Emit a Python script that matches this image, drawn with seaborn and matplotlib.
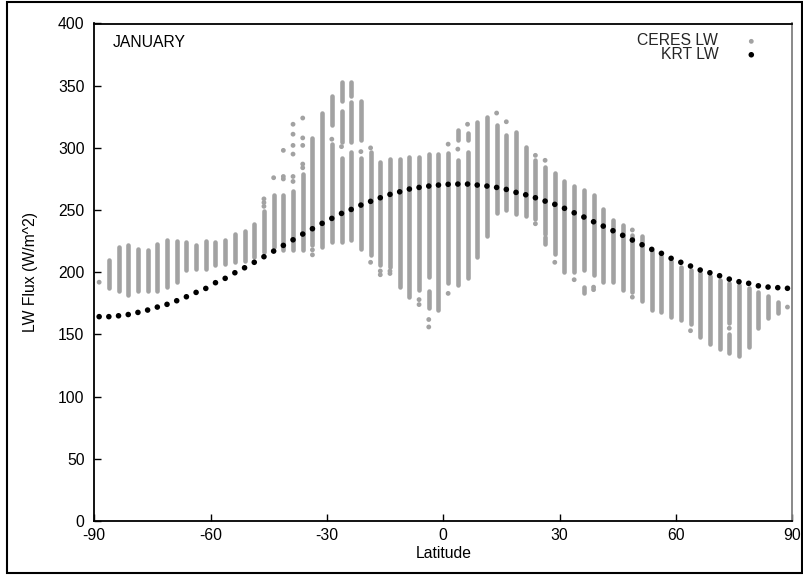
import matplotlib
matplotlib.use("Agg")
import matplotlib.pyplot as plt
import seaborn as sns
import pandas as pd
from matplotlib.patches import Rectangle

# ---------------- data ----------------
# KRT LW model, one value per 2.5-degree latitude band
krt_lat = [-88.75, -86.25, -83.75, -81.25, -78.75, -76.25, -73.75, -71.25, -68.75, -66.25,
           -63.75, -61.25, -58.75, -56.25, -53.75, -51.25, -48.75, -46.25, -43.75, -41.25,
           -38.75, -36.25, -33.75, -31.25, -28.75, -26.25, -23.75, -21.25, -18.75, -16.25,
           -13.75, -11.25, -8.75, -6.25, -3.75, -1.25, 1.25, 3.75, 6.25, 8.75,
           11.25, 13.75, 16.25, 18.75, 21.25, 23.75, 26.25, 28.75, 31.25, 33.75,
           36.25, 38.75, 41.25, 43.75, 46.25, 48.75, 51.25, 53.75, 56.25, 58.75,
           61.25, 63.75, 66.25, 68.75, 71.25, 73.75, 76.25, 78.75, 81.25, 83.75,
           86.25, 88.75]
krt_lw = [164.3, 164.3, 165.0, 166.0, 167.7, 169.6, 172.0, 174.2, 177.1, 180.3,
          183.8, 187.0, 191.6, 195.1, 199.6, 203.6, 208.0, 212.5, 217.0, 221.6,
          226.1, 230.7, 235.0, 239.3, 243.3, 247.3, 250.5, 254.0, 257.0, 259.9,
          262.6, 264.7, 266.9, 268.2, 269.3, 270.1, 270.7, 270.9, 270.9, 270.1,
          269.3, 268.2, 266.6, 264.2, 262.3, 259.9, 257.2, 254.6, 251.4, 247.8,
          244.4, 240.6, 237.1, 233.4, 229.7, 225.9, 222.1, 218.4, 215.2, 211.2,
          208.0, 205.0, 201.8, 199.6, 197.2, 194.5, 192.4, 191.1, 189.1, 188.1,
          187.6, 187.1]

# CERES LW: dense runs of points in each latitude column (low / high end of each run)
ceres_run_lat = [-86.25, -83.75, -81.25, -78.75, -76.25, -73.75, -71.25, -68.75, -66.25,
                 -63.75, -61.25, -58.75, -56.25, -53.75, -51.25, -48.75, -46.25, -43.75,
                 -41.25, -38.75, -36.25, -33.75, -31.25, -28.75, -28.75, -26.25, -26.25,
                 -26.25, -23.75, -23.75, -23.75, -21.25, -21.25, -18.75, -16.25, -13.75,
                 -11.25, -8.75, -6.25, -3.75, -3.75, -1.25, 1.25, 3.75, 3.75, 6.25, 6.25,
                 8.75, 11.25, 13.75, 16.25, 18.75, 21.25, 23.75, 26.25, 26.25, 28.75,
                 31.25, 33.75, 36.25, 36.25, 38.75, 41.25, 43.75, 46.25, 48.75, 51.25,
                 53.75, 56.25, 58.75, 61.25, 63.75, 66.25, 68.75, 71.25, 73.75, 73.75,
                 76.25, 78.75, 81.25, 83.75, 86.25]
ceres_run_lo = [187, 185, 182, 185, 185, 185, 188, 192, 202,
                203, 203, 206, 207, 208, 209, 212, 216, 220,
                218, 218, 218, 222, 220, 224, 318, 224, 305,
                338, 226, 305, 342, 219, 306, 214, 206, 204,
                188, 180, 186, 196, 171, 170, 191, 190, 306, 195, 306,
                212, 229, 248, 250, 247, 245, 243, 231, 223, 215,
                200, 200, 202, 183, 198, 192, 192, 186, 184, 177,
                170, 168, 164, 162, 158, 148, 142, 138, 159, 135,
                133, 140, 155, 163, 167]
ceres_run_hi = [210, 220, 222, 219, 218, 223, 226, 225, 224,
                222, 225, 224, 226, 231, 233, 239, 249, 262,
                262, 265, 279, 308, 328, 303, 342, 292, 330,
                353, 297, 337, 353, 292, 338, 297, 289, 291,
                291, 293, 293, 295, 185, 295, 296, 290, 314, 297, 312,
                321, 325, 318, 310, 313, 301, 290, 285, 228, 280,
                273, 269, 266, 188, 262, 251, 242, 238, 230, 229,
                217, 213, 209, 204, 202, 199, 197, 194, 191, 150,
                190, 187, 184, 181, 176]

# CERES LW: isolated points
ceres_dot_lat = [-88.75, -46.25, -46.25, -46.25, -43.75, -41.25, -41.25, -41.25,
                 -38.75, -38.75, -38.75, -38.75, -38.75, -38.75,
                 -36.25, -36.25, -36.25, -36.25, -36.25, -33.75, -33.75,
                 -28.75, -26.25, -21.25, -18.75, -18.75, -16.25, -16.25,
                 -13.75, -13.75, -6.25, -6.25, -3.75, -3.75, 1.25, 1.25,
                 3.75, 6.25, 13.75, 16.25, 23.75, 23.75, 26.25, 28.75,
                 33.75, 38.75, 38.75, 48.75, 48.75, 63.75, 73.75, 88.75]
ceres_dot_val = [192, 253, 256, 259, 276, 298, 277, 275,
                 319, 311, 302, 295, 277, 273,
                 324, 308, 302, 287, 284, 218, 214,
                 307, 301, 297, 300, 208, 201, 198,
                 201, 199, 178, 174, 162, 156, 303, 183,
                 299, 319, 328, 321, 294, 239, 290, 208,
                 194, 188, 186, 234, 180, 153, 155, 172]

x_ticks = [-90, -60, -30, 0, 30, 60, 90]
y_ticks = [0, 50, 100, 150, 200, 250, 300, 350, 400]

# ---------------- styling ----------------
sns.set_theme(style="white")
plt.rcParams["font.family"] = ["Liberation Sans", "DejaVu Sans"]
GRAY = "#a2a2a2"
FS = 11.3

fig = plt.figure(figsize=(8.04, 5.75), dpi=100)
ax = fig.add_axes([94.3 / 804, 1 - 521 / 575, (792.3 - 94.3) / 804, (521 - 23.5) / 575])

runs = pd.DataFrame({"lat": ceres_run_lat, "lo": ceres_run_lo, "hi": ceres_run_hi})
ax.vlines(runs["lat"], runs["lo"], runs["hi"], colors=GRAY, linewidth=3.3,
          capstyle="round", zorder=2)

dots = pd.DataFrame({"lat": ceres_dot_lat, "lw": ceres_dot_val})
sns.scatterplot(data=dots, x="lat", y="lw", color=GRAY, s=12, linewidth=0,
                edgecolor="none", ax=ax, label="CERES LW", zorder=3)

krt = pd.DataFrame({"lat": krt_lat, "lw": krt_lw})
sns.scatterplot(data=krt, x="lat", y="lw", color="black", s=16, linewidth=0,
                edgecolor="none", ax=ax, label="KRT LW", zorder=4)

ax.set_xlim(-90, 90)
ax.set_ylim(0, 400)
ax.set_xticks(x_ticks)
ax.set_yticks(y_ticks)
ax.set_xticklabels([str(t) for t in x_ticks])
ax.set_yticklabels([str(t) for t in y_ticks])
ax.tick_params(axis="both", direction="in", length=5, width=1, color="black",
               labelsize=FS, labelcolor="black", bottom=True, left=True,
               top=False, right=False)
ax.tick_params(axis="y", pad=7)
ax.tick_params(axis="x", pad=5)

for side in ["left", "bottom", "top", "right"]:
    ax.spines[side].set_visible(True)
    ax.spines[side].set_linewidth(1.3)
    ax.spines[side].set_color("black")
ax.spines["right"].set_color("#808080")

ax.set_xlabel("Latitude", fontsize=FS, color="black")
ax.set_ylabel("LW Flux (W/m^2)", fontsize=FS, color="black")
ax.xaxis.set_label_coords(0.5, (521 - 546) / 497.5)
ax.yaxis.set_label_coords((38 - 94.3) / 698, 0.5)

ax.text(0.027, 0.976, "JANUARY", transform=ax.transAxes, fontsize=FS,
        ha="left", va="top", color="black")

leg = ax.legend(loc="upper right", bbox_to_anchor=(0.9525, 0.980), frameon=False,
                markerfirst=False, fontsize=FS, handlelength=1.0,
                handletextpad=1.6, labelspacing=-0.1, borderpad=0,
                borderaxespad=0)

fig.patches.append(Rectangle((0.0085, 0.004), 0.989, 0.993, transform=fig.transFigure,
                             fill=False, edgecolor="black", linewidth=1.5))

fig.savefig("out.png", dpi=100, facecolor="white")
